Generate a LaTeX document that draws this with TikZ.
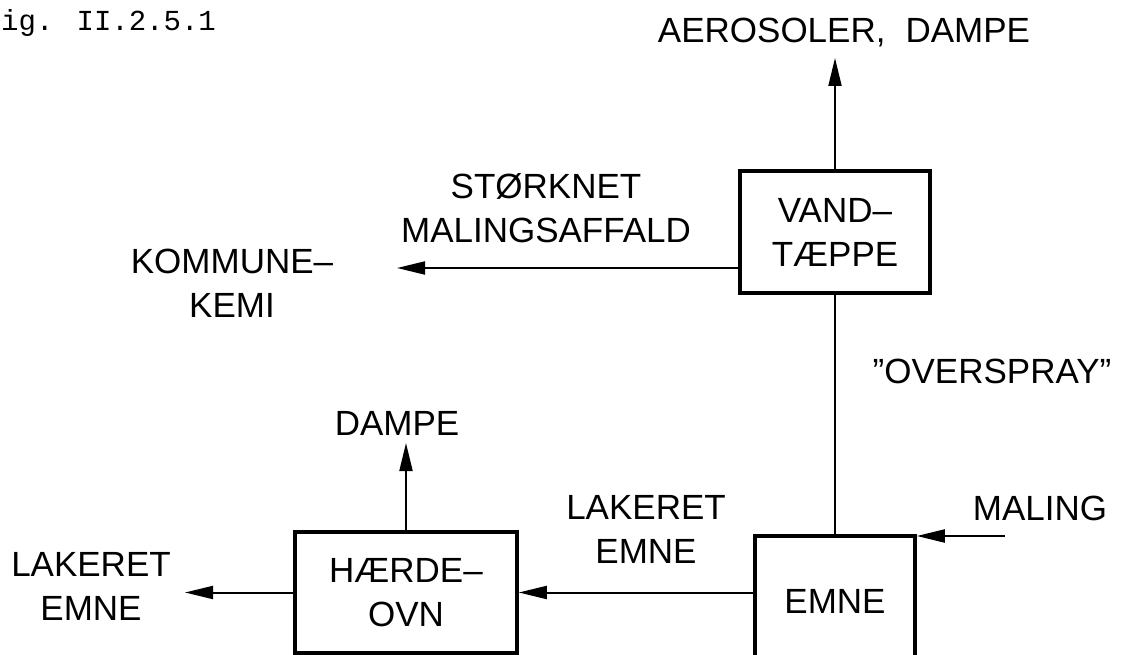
\documentclass[tikz,border=0pt]{standalone}
\usepackage{fontspec}
\setmainfont{Liberation Sans}
\newfontfamily\figmono{Liberation Mono}
\usetikzlibrary{arrows.meta}
\begin{document}
\begin{tikzpicture}[x=1pt,y=-1pt,
  lbl/.style={font=\fontsize{35}{44}\selectfont, inner sep=0pt, outer sep=0pt, align=center},
  box/.style={draw, line width=3.5pt, align=center, font=\fontsize{35}{44}\selectfont, inner sep=0pt},
  flow/.style={line width=2pt, -{Triangle[length=28pt,width=13pt]}},
  plain/.style={line width=2pt}]
\useasboundingbox (0,0) rectangle (1125,655);

% boxes
\node[box, minimum width=190pt, minimum height=122pt] (vand) at (835,232) {VAND–\\TÆPPE};
\node[box, minimum width=222pt, minimum height=121pt] (haerde) at (406,592.5) {HÆRDE–\\OVN};
\node[draw, line width=3.5pt, minimum width=160pt, minimum height=150pt, inner sep=0pt] (emne) at (835,611) {};
\node[lbl, anchor=base] (emnetxt) at (835,613) {EMNE};

% labels
\node[anchor=base west, inner sep=0pt, font=\figmono\fontsize{29}{30}\selectfont] (fig) at (1,31) {ig. II.2.5.1};
\node[lbl, anchor=base east] (aero) at (1030,43) {AEROSOLER,\hspace{20pt}DAMPE};
\node[lbl, anchor=south] (stork) at (546,243) {STØRKNET\\MALINGSAFFALD};
\node[lbl, anchor=south] (kommune) at (232,317) {KOMMUNE–\\KEMI};
\node[lbl, anchor=base] (overspray) at (992,383) {”OVERSPRAY”};
\node[lbl, anchor=base] (maling) at (1040,520) {MALING};
\node[lbl, anchor=base] (dampe) at (397,435) {DAMPE};
\node[lbl, anchor=south] (lak1) at (646,563) {LAKERET\\EMNE};
\node[lbl, anchor=south] (lak2) at (91,620) {LAKERET\\EMNE};

% free ends
\coordinate (aerotip) at (835,58);
\coordinate (kommtip) at (397,268);
\coordinate (malstart) at (1005,536);
\coordinate (dampetip) at (406,443);
\coordinate (lefttip) at (185,592.5);

% connectors
\draw[flow] (vand.north) -- (aerotip);
\draw[flow] ([yshift=-36pt]vand.west) -- ([yshift=-36pt]vand.west -| kommtip);
\draw[plain] (emne.north) -- (vand.south);
\draw[flow] (malstart) -- (malstart -| emne.east);
\draw[flow] (emne.west |- haerde.east) -- (haerde.east);
\draw[flow] (haerde.north) -- (dampetip);
\draw[flow] (haerde.west) -- (lefttip);
\end{tikzpicture}
\end{document}
